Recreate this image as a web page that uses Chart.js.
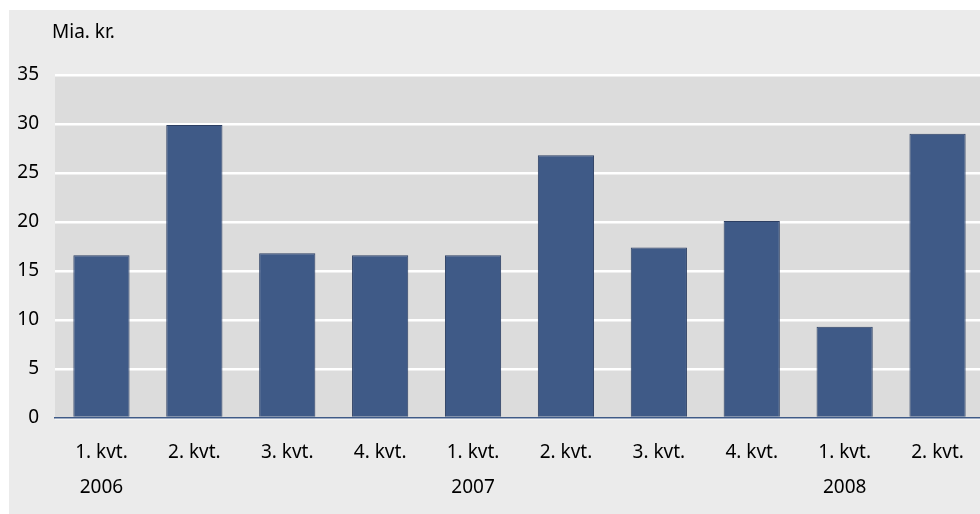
<!DOCTYPE html>
<html>
<head>
<meta charset="utf-8">
<script src="https://cdn.jsdelivr.net/npm/chart.js@4.4.0/dist/chart.umd.min.js"></script>
<style>
  html,body{margin:0;padding:0;background:#fff;overflow:hidden;}
  #wrap{position:absolute;left:0;top:0;width:990px;height:514px;}
</style>
</head>
<body>
<div id="wrap"><canvas id="c"></canvas></div>
<script>
const quarters = ["1. kvt.","2. kvt.","3. kvt.","4. kvt.","1. kvt.","2. kvt.","3. kvt.","4. kvt.","1. kvt.","2. kvt."];
const years = ["2006","","","","2007","","","","2008",""];
const values = [16.6, 29.9, 16.8, 16.6, 16.6, 26.8, 17.4, 20.1, 9.3, 29.0];
const unitLabel = "Mia. kr.";

const FONT = "'Noto Sans', 'Open Sans', sans-serif";

// baggrund: ydre grå flade + plotområde
const bgPlugin = {
  id: "bg",
  beforeDraw(chart) {
    const ctx = chart.ctx, a = chart.chartArea;
    ctx.save();
    ctx.fillStyle = "#ebebeb";
    ctx.fillRect(9, 10, chart.width - 9, chart.height - 10);
    ctx.fillStyle = "#dcdcdc";
    ctx.fillRect(a.left, a.top, a.right - a.left, a.bottom - a.top);
    ctx.fillStyle = "#000";
    ctx.font = "19px " + FONT;
    ctx.textBaseline = "middle";
    ctx.fillText(unitLabel, 52, 33);
    ctx.restore();
  }
};

new Chart(document.getElementById("c"), {
  type: "bar",
  data: {
    labels: quarters.map((q, i) => [q, years[i]]),
    datasets: [{
      data: values,
      backgroundColor: "#3f5a87",
      borderColor: "#2c3f63",
      borderWidth: 1,
      categoryPercentage: 1,
      barPercentage: 0.605
    }]
  },
  options: {
    responsive: true,
    maintainAspectRatio: false,
    animation: false,
    layout: { padding: { top: 75, right: 6, left: 0, bottom: 0 } },
    plugins: { legend: { display: false }, tooltip: { enabled: false } },
    scales: {
      x: {
        grid: { display: false, drawTicks: false },
        border: { display: true, color: "#3f5a87", width: 1.5 },
        ticks: { color: "#000", font: { family: FONT, size: 19, lineHeight: 1.85 }, padding: 17, maxRotation: 0, autoSkip: false },
        afterFit(s) { s.height = 96; }
      },
      y: {
        min: 0, max: 35,
        grid: { color: "#ffffff", lineWidth: 2.5, drawTicks: false },
        border: { display: false },
        ticks: { stepSize: 5, color: "#000", font: { family: FONT, size: 19 }, padding: 16 },
        afterFit(s) { s.width = 55; }
      }
    }
  },
  plugins: [bgPlugin]
});
</script>
</body>
</html>
